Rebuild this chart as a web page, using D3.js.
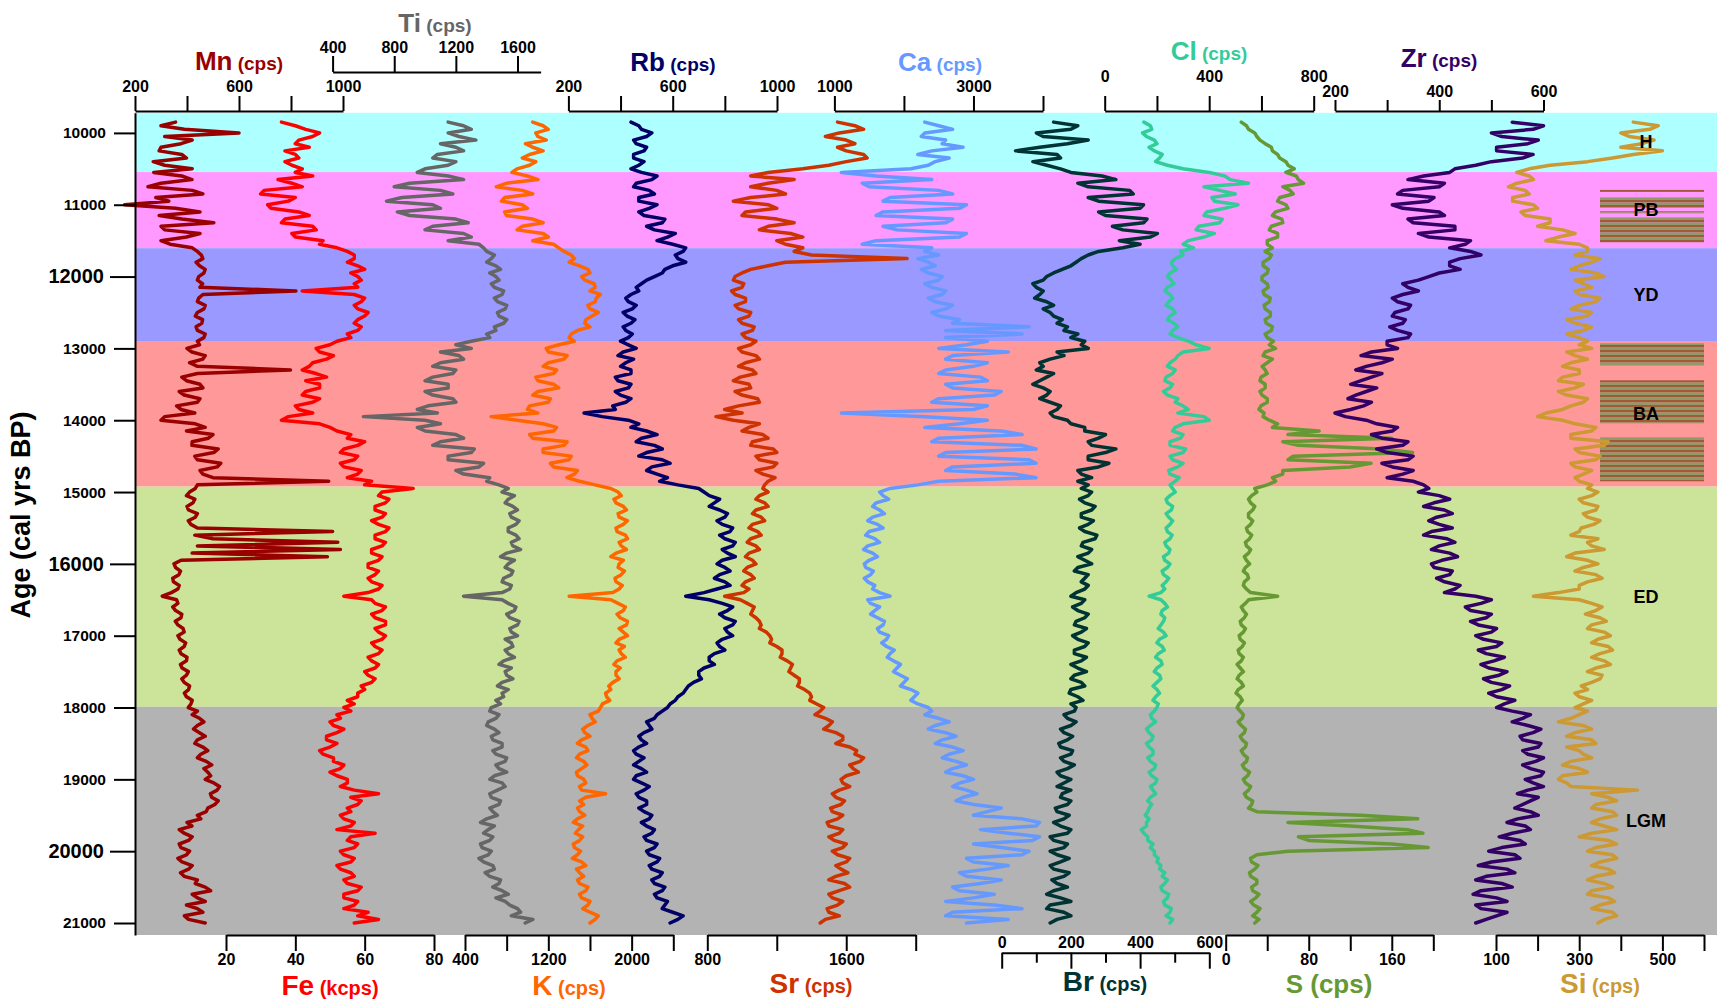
<!DOCTYPE html>
<html><head><meta charset="utf-8">
<script src="https://cdn.jsdelivr.net/npm/d3@7/dist/d3.min.js"></script>
<style>
html,body{margin:0;padding:0;background:#fff;}
svg{display:block;}
</style></head>
<body>
<svg id="chart" width="1717" height="1005"></svg>
<script>
// ---------------- DATA ----------------
// sample ages (cal yrs BP)
const ages = [
 9850,9900,9950,10000,10050,10100,10150,10200,10250,10300,10350,10400,10450,10500,
 10550,10600,10650,10700,10750,10800,10850,10900,10950,11000,11050,11100,11150,11200,11250,11300,11350,11400,11450,11500,11550,11600,
 11650,11700,11750,11800,11850,11900,11950,12000,12050,12100,12150,12200,12250,12300,12350,12400,12450,12500,12550,12600,12650,12700,12750,12800,12850,12900,
 12950,13000,13050,13100,13150,13200,13250,13300,13350,13400,13450,13500,13550,13600,13650,13700,13750,13800,13850,13900,
 13950,14000,14050,14100,14150,14200,14250,14300,14350,14400,14450,14500,14550,14600,14650,14700,14750,14800,14850,14900,
 14950,15000,15050,15100,15150,15200,15250,15300,15350,15400,15450,15500,15550,15600,15650,15700,15750,15800,15850,15900,15950,16000,
 16050,16100,16150,16200,16250,16300,16350,16400,16450,16500,16550,16600,16650,16700,16750,16800,16850,16900,16950,17000,
 17050,17100,17150,17200,17250,17300,17350,17400,17450,17500,17550,17600,17650,17700,17750,17800,17850,17900,17950,18000,
 18050,18100,18150,18200,18250,18300,18350,18400,18450,18500,18550,18600,18650,18700,18750,18800,18850,18900,18950,19000,
 19050,19100,19150,19200,19250,19300,19350,19400,19450,19500,19550,19600,19650,19700,19750,19800,19850,19900,19950,20000,
 20050,20100,20150,20200,20250,20300,20350,20400,20450,20500,20550,20600,20650,20700,20750,20800,20850,20900,20950,21000];

const mn = [356,300,390,600,314,420,377,300,293,380,398,270,314,420,
 272,380,419,300,250,420,461,280,330,160,356,450,293,380,503,300,314,450,398,300,335,420,
 440,455,461,435,448,470,465,445,440,460,450,819,461,445,440,470,465,440,432,460,457,435,440,470,465,440,
 448,400,419,470,461,410,440,798,440,380,398,450,461,370,389,450,440,360,377,430,314,300,432,470,398,500,482,420,419,520,503,430,440,530,516,450,461,500,945,440,
 432,410,398,430,423,400,406,440,432,405,415,440,960,430,500,980,440,990,420,940,377,350,356,375,369,345,348,370,365,340,305,360,365,345,356,380,377,355,365,385,389,365,373,395,389,370,377,400,398,375,381,405,398,380,389,410,406,390,398,420,415,405,
 440,420,448,465,440,425,448,470,440,430,461,480,453,440,474,495,465,480,491,470,503,525,516,490,495,520,507,480,474,440,453,400,419,370,389,420,406,370,377,410,398,365,381,420,406,375,389,440,432,470,491,420,440,470,398,440,461,390,406,470];

const fe = [36,40,43,47,45,41,40,44,37,40,41,37,39,42,
 40,45,35,39,42,31,30,40,38,32,33,41,44,37,36,45,46,39,40,48,47,52,
 55,57,57,55,58,60,56,58,59,57,58,42,57,60,59,57,58,61,60,58,57,59,58,55,56,52,
 50,46,47,51,49,45,44,42,46,49,43,47,47,43,42,47,45,40,41,45,38,36,47,50,52,56,55,60,58,54,53,58,57,53,54,59,58,55,62,60,
 74,65,64,67,66,63,63,66,65,62,64,67,66,63,63,66,65,62,62,65,64,61,61,64,63,61,62,65,64,61,54,62,63,66,65,62,63,66,66,63,64,66,65,62,63,65,64,61,62,64,63,60,61,63,62,59,60,58,58,55,57,54,
 56,52,53,50,51,54,52,49,49,52,50,47,48,51,51,54,53,50,52,55,55,53,57,64,56,59,58,55,56,53,54,57,56,52,63,56,55,58,57,53,54,57,56,52,53,56,57,54,55,59,58,54,54,58,57,54,61,58,64,57];

const ti = [1150,1250,1300,1150,1220,1330,1100,1200,1250,1080,1050,1200,1150,1000,
 950,1150,1250,900,800,1100,1180,850,750,1050,1100,820,900,1200,1280,1050,1000,1250,1300,1150,1350,1380,
 1400,1450,1430,1400,1460,1490,1420,1460,1480,1430,1450,1510,1500,1450,1470,1530,1520,1470,1480,1530,1510,1450,1460,1400,1420,1300,
 1200,1300,1100,1220,1250,1100,1050,1200,1180,1050,1000,1150,1150,1000,1050,1180,1200,1020,950,1080,600,1000,1100,950,1000,1200,1250,1100,1050,1320,1300,1150,1150,1380,1350,1200,1250,1420,1400,1480,
 1540,1500,1580,1540,1520,1570,1600,1550,1560,1610,1590,1540,1540,1590,1610,1560,1570,1620,1530,1490,1580,1540,1520,1570,1560,1510,1500,1560,1550,1500,1250,1500,1540,1590,1580,1530,1550,1610,1600,1550,1560,1600,1520,1560,1570,1520,1540,1580,1510,1480,1560,1520,1530,1570,1500,1470,1540,1500,1510,1460,1490,1430,
 1420,1480,1460,1410,1400,1450,1480,1430,1440,1500,1500,1440,1460,1530,1520,1460,1480,1530,1450,1420,1500,1520,1470,1420,1430,1490,1480,1420,1440,1470,1400,1360,1450,1410,1380,1440,1420,1360,1370,1430,1410,1350,1380,1440,1450,1390,1420,1490,1480,1440,1500,1540,1460,1520,1550,1600,1620,1560,1700,1650];

const k = [1050,1150,1200,1080,1100,1180,980,1050,1150,1020,950,1080,1020,900,
 850,1000,1100,800,700,950,1050,780,750,950,1000,780,800,1050,1150,950,900,1150,1200,1050,1250,1300,
 1350,1420,1450,1400,1500,1580,1600,1520,1550,1640,1650,1600,1700,1660,1650,1580,1600,1680,1620,1560,1550,1600,1480,1420,1400,1450,
 1300,1180,1200,1380,1350,1200,1150,1280,1250,1080,1100,1250,1300,1100,1050,1220,1200,1020,1000,1100,650,900,1150,1280,1250,1020,1050,1380,1350,1150,1150,1420,1400,1220,1250,1480,1450,1380,1500,1650,
 1800,1870,1900,1830,1850,1920,1950,1870,1880,1960,1920,1850,1860,1940,1960,1880,1900,1950,1850,1800,1920,1880,1870,1930,1900,1840,1850,1910,1880,1820,1400,1800,1870,1940,1920,1860,1890,1960,1950,1880,1920,1960,1880,1850,1930,1880,1900,1940,1860,1830,1890,1850,1850,1880,1820,1780,1800,1750,1760,1790,1720,1700,
 1680,1600,1620,1650,1580,1530,1550,1600,1520,1480,1560,1580,1500,1470,1540,1570,1520,1470,1480,1540,1560,1500,1520,1750,1560,1500,1540,1480,1500,1550,1480,1440,1530,1490,1460,1530,1500,1440,1450,1510,1480,1430,1520,1560,1470,1500,1540,1480,1500,1580,1560,1500,1520,1600,1580,1530,1600,1680,1650,1600];

const rb = [440,470,480,520,500,450,460,500,490,450,450,490,470,440,
 480,540,520,460,450,510,530,470,470,540,510,470,490,570,560,500,530,610,580,540,600,650,
 640,610,620,650,600,570,560,530,500,480,460,470,440,420,430,460,445,410,425,455,440,410,420,445,430,400,
 430,460,410,390,450,420,400,440,440,380,390,440,430,380,400,440,420,370,380,260,330,430,470,440,500,540,480,460,530,560,500,470,560,590,520,500,540,580,550,620,
 700,720,740,780,760,740,780,810,800,770,790,830,820,780,800,840,830,790,810,840,790,770,800,820,780,760,800,820,770,720,650,740,790,830,810,780,800,840,830,800,810,830,790,770,780,800,760,740,740,760,720,700,700,710,680,660,650,640,620,610,590,580,
 560,540,530,500,510,520,490,470,480,500,470,450,460,490,470,450,480,500,460,450,480,510,490,460,470,500,500,470,490,520,510,480,500,530,520,490,500,540,530,500,510,550,540,510,520,560,550,520,530,570,560,530,540,580,570,560,600,640,620,590];

const sr = [1550,1650,1700,1560,1480,1600,1650,1550,1600,1700,1720,1600,1500,1350,
 1150,1050,1300,1150,1050,1200,1250,1050,950,1150,1200,1020,1000,1200,1300,1150,1100,1280,1350,1200,1250,1350,
 1300,1400,1950,1250,1150,1050,1000,960,950,1010,1000,940,960,1020,1020,960,980,1050,1040,980,1000,1070,1060,1000,1020,1080,
 1050,980,1000,1080,1100,1020,980,1060,1080,990,950,1040,1050,960,1000,1090,1100,980,900,1000,850,950,1100,1040,1000,1120,1150,1060,1050,1180,1200,1080,1100,1200,1180,1080,1120,1190,1150,1130,
 1120,1150,1100,1080,1130,1150,1080,1060,1110,1130,1060,1040,1090,1110,1050,1030,1080,1100,1040,1020,1060,1080,1030,1010,1050,1070,1020,1000,1040,1010,900,990,1030,1070,1060,1050,1080,1100,1110,1100,1140,1160,1170,1160,1200,1230,1230,1220,1260,1290,1280,1270,1300,1330,1330,1320,1360,1390,1400,1390,1430,1470,
 1450,1420,1480,1520,1500,1470,1540,1580,1580,1540,1620,1660,1650,1700,1680,1620,1640,1670,1600,1570,1580,1620,1560,1520,1540,1590,1570,1510,1520,1580,1550,1490,1500,1580,1560,1500,1530,1600,1580,1520,1550,1620,1600,1540,1570,1610,1540,1500,1590,1620,1560,1500,1520,1580,1550,1490,1500,1560,1480,1450];

const ca = [2300,2500,2700,2300,2250,2600,2550,2850,2400,2200,2650,2450,2350,2100,
 1100,1600,2400,1400,1500,2500,2700,1800,1700,2900,2800,1700,1600,2700,2600,1700,1900,2900,2800,1600,1400,2400,
 2300,2500,2200,2350,2450,2250,2350,2550,2500,2300,2400,2600,2550,2350,2450,2700,2600,2400,2500,2800,2700,3800,2600,3700,2600,3200,
 2900,2500,3500,2700,2600,3200,3000,2600,2500,3100,3200,2600,2700,3400,3300,2500,2400,3200,3000,1100,2300,3200,2800,2300,3400,3700,2500,2400,3700,3900,2600,2500,3800,3900,2700,2600,3600,3900,2500,2200,
 1800,1650,1700,1780,1600,1550,1650,1720,1550,1480,1620,1700,1500,1450,1580,1650,1480,1420,1550,1620,1500,1430,1450,1560,1520,1430,1480,1580,1550,1650,1800,1480,1520,1650,1580,1520,1620,1720,1700,1620,1650,1780,1750,1680,1750,1860,1800,1760,1850,1950,1900,1850,1950,2050,2000,1950,2100,2200,2150,2100,2200,2350,
 2400,2300,2500,2650,2450,2350,2600,2750,2550,2450,2700,2850,2650,2550,2750,2900,2700,2600,2850,3000,2800,2700,2900,3050,2850,2750,3000,3400,3200,3000,3700,3950,3900,3100,3500,3950,3850,3000,3400,3800,3700,2900,3000,3500,3200,2800,2900,3400,3100,2700,2800,3300,3000,2600,3300,3700,2700,2600,3500,2900];

const br = [150,220,200,100,120,250,190,110,40,160,170,90,130,170,
 200,290,330,220,250,370,380,250,280,410,400,280,300,420,410,320,350,450,430,340,400,350,
 280,250,230,215,200,175,150,130,120,90,100,120,110,95,130,150,120,140,150,175,160,190,180,220,200,240,
 230,250,160,180,140,110,120,100,150,130,110,90,120,140,130,110,140,170,160,140,150,190,200,240,240,300,280,250,260,330,300,250,250,310,280,220,230,260,220,250,
 230,260,250,225,240,270,260,230,230,265,250,225,240,275,270,235,230,260,250,220,240,260,220,210,250,240,230,250,240,215,200,240,230,205,220,250,240,215,210,245,230,205,220,250,240,210,210,245,230,200,220,245,210,200,230,240,200,195,220,235,200,215,
 210,180,190,215,200,170,180,205,190,165,170,205,200,170,180,210,190,160,170,200,180,160,200,175,170,200,190,155,160,195,180,150,170,200,190,140,150,190,180,140,160,195,170,140,150,195,180,145,160,190,150,130,170,200,140,130,180,200,160,140];

const cl = [150,175,180,145,160,190,200,170,190,220,210,195,240,300,
 400,460,480,550,380,440,500,410,420,510,460,390,380,450,440,360,350,420,380,320,300,340,
 290,300,270,255,260,275,250,240,255,265,240,230,250,260,245,235,260,270,250,240,265,280,260,250,280,320,
 350,400,300,280,270,250,240,270,260,235,230,260,250,225,240,280,270,300,320,280,380,400,300,270,260,300,290,250,250,310,300,250,260,300,280,245,250,285,270,250,
 260,270,250,235,240,260,255,235,245,260,250,235,240,258,250,230,235,250,245,225,230,250,240,220,225,245,235,220,230,215,170,215,230,240,220,215,230,225,215,205,225,235,210,200,220,228,205,195,215,220,200,190,210,215,200,185,200,210,195,185,205,200,
 190,175,180,195,175,160,170,185,180,160,170,185,185,165,175,195,190,170,180,200,195,175,185,195,175,165,180,170,165,155,170,160,160,140,150,165,165,185,175,190,190,205,200,215,210,230,220,240,230,215,220,245,240,225,230,255,250,235,260,250];

const s = [15,20,22,28,30,33,38,44,45,50,52,58,60,66,
 58,68,70,75,55,62,65,52,50,58,60,48,45,54,55,44,42,50,50,40,40,45,
 38,44,42,36,36,41,40,35,35,40,41,36,37,43,42,37,38,43,43,38,39,45,44,38,40,46,
 42,48,38,36,45,40,35,38,40,34,33,38,38,33,35,40,40,34,32,37,36,42,50,45,90,60,160,55,70,150,180,65,60,140,120,55,55,45,48,40,
 28,30,25,22,24,28,26,22,22,26,24,20,21,25,23,19,20,24,22,18,20,23,19,17,21,22,18,17,20,24,50,22,19,15,17,20,18,14,15,19,17,13,14,18,16,12,13,17,15,11,14,17,13,11,15,17,12,10,14,16,13,11,
 14,17,16,12,15,19,18,14,16,20,19,15,17,21,20,16,18,23,21,17,19,24,22,18,20,26,25,22,30,130,185,60,120,175,190,70,80,160,195,60,30,24,25,31,28,23,24,30,30,25,26,32,29,24,27,33,30,26,32,28];

const zr = [540,600,580,500,520,590,570,510,510,580,560,500,470,430,
 420,370,340,410,400,330,320,390,380,310,330,400,410,340,350,430,430,360,380,460,450,420,
 460,480,440,420,420,440,400,380,360,330,340,360,330,310,320,345,340,315,310,335,330,305,320,345,340,300,
 300,320,270,250,310,290,260,240,290,270,250,230,280,260,240,225,270,255,230,200,220,260,280,320,310,270,290,340,330,280,300,350,340,290,310,350,330,300,350,370,
 380,360,400,420,390,370,410,425,395,380,400,425,385,370,415,430,400,385,420,435,405,385,390,425,420,395,410,440,430,410,470,500,480,450,460,500,490,460,475,510,500,470,485,520,510,475,490,525,505,480,495,530,515,485,500,535,520,495,510,545,525,510,
 540,575,560,540,570,595,580,555,560,595,590,560,570,600,585,560,575,600,595,565,580,600,570,550,590,575,560,545,575,590,550,530,565,575,540,515,555,565,520,495,545,555,500,475,530,545,490,470,520,540,480,465,510,530,470,480,530,510,490,470];

const si = [430,490,470,400,420,480,450,400,500,430,380,320,230,180,
 150,180,190,150,130,170,180,140,140,190,200,160,170,230,230,200,260,290,250,220,300,320,
 320,290,350,330,300,280,340,360,290,310,330,290,300,350,340,300,280,330,320,270,290,330,310,270,300,320,
 300,330,270,290,320,280,260,300,300,260,250,310,290,250,270,320,310,280,260,220,200,260,290,340,330,280,280,370,360,290,300,350,340,280,290,330,310,290,300,330,
 320,345,330,300,310,345,340,310,320,350,335,305,300,280,345,320,330,360,290,270,320,345,310,290,340,355,320,300,300,250,190,300,330,355,340,315,350,365,330,320,360,375,345,330,370,380,350,330,360,375,340,320,355,350,330,305,320,290,300,330,310,290,
 320,300,280,250,310,330,290,270,330,340,270,300,310,330,280,260,300,320,260,250,270,280,440,330,370,390,340,330,380,390,350,330,360,390,330,300,370,390,340,320,380,390,350,330,370,385,340,320,360,380,330,320,370,385,350,330,380,390,360,345];

// periods (cal yrs BP)
const periodNames = ["H","PB","YD","BA","ED","LGM"];
const periodStart = [9720,10545,11605,12897,14925,17990];
const periodEnd   = [10545,11605,12897,14925,17990,21167];

// laminated intervals (hatched blocks)
const stripeStart = [10793,10898,11092,11176,12929,13444,14238];
const stripeEnd   = [10821,11044,11120,11524,13235,14043,14850];

// tick values
const yTicks = [10000,11000,12000,13000,14000,15000,16000,17000,18000,19000,20000,21000];
const yTicksMajor = [12000,16000,20000];
const mnTicks=[200,400,600,800,1000], mnLabels=[200,600,1000];
const tiTicks=[400,800,1200,1600], tiLabels=[400,800,1200,1600];
const rbTicks=[200,400,600,800,1000], rbLabels=[200,600,1000];
const caTicks=[1000,2000,3000,4000], caLabels=[1000,3000];
const clTicks=[0,200,400,600,800], clLabels=[0,400,800];
const zrTicks=[200,300,400,500,600], zrLabels=[200,400,600];
const feTicks=[20,40,60,80], feLabels=[20,40,60,80];
const kTicks=[400,800,1200,1600,2000,2400], kLabels=[400,1200,2000];
const srTicks=[800,1200,1600,2000], srLabels=[800,1600];
const brTicks=[0,100,200,300,400,500,600], brLabels=[0,200,400,600];
const sTicks=[0,40,80,120,160,200], sLabels=[0,80,160];
const siTicks=[100,200,300,400,500,600], siLabels=[100,300,500];

// ---------------- STYLE / LAYOUT ----------------
const FONT = "'Liberation Sans', Arial, Helvetica, sans-serif";
const periodColors = {H:"#AEFFFF", PB:"#FF99FF", YD:"#9999FF", BA:"#FF9999", ED:"#CCE49A", LGM:"#B3B3B3"};
const svg = d3.select("#chart");
const plotLeft = 135, plotRight = 1717;
const y = d3.scaleLinear().domain([periodStart[0], periodEnd[periodEnd.length-1]]).range([112.8, 935]);

const series = [
 {name:"Mn", unit:"(cps)", values:mn, domain:[200,1000], range:[135,343], color:"#990000", pos:"top", ay:111, ts:15, pad:4, ticks:mnTicks, labels:mnLabels, tx:239, ty:70},
 {name:"Fe", unit:"(kcps)", values:fe, domain:[20,80], range:[226,434], color:"#FF0000", pos:"bottom", ay:935, ts:16, pad:3, ticks:feTicks, labels:feLabels, tx:330, ty:995},
 {name:"Ti", unit:"(cps)", values:ti, domain:[400,1750], range:[332.6,540.6], color:"#666666", pos:"top", ay:72, ts:16, pad:3, ticks:tiTicks, labels:tiLabels, tx:435, ty:32},
 {name:"K", unit:"(cps)", values:k, domain:[400,2400], range:[465,673.3], color:"#FF6600", pos:"bottom", ay:935, ts:16, pad:3, ticks:kTicks, labels:kLabels, tx:569, ty:995},
 {name:"Rb", unit:"(cps)", values:rb, domain:[200,1000], range:[568.4,777], color:"#000066", pos:"top", ay:111, ts:15, pad:4, ticks:rbTicks, labels:rbLabels, tx:673, ty:71},
 {name:"Sr", unit:"(cps)", values:sr, domain:[800,2000], range:[707.3,915.7], color:"#CC3300", pos:"bottom", ay:935, ts:16, pad:3, ticks:srTicks, labels:srLabels, tx:811, ty:993},
 {name:"Ca", unit:"(cps)", values:ca, domain:[1000,4000], range:[834.4,1043], color:"#6699FF", pos:"top", ay:111, ts:15, pad:4, ticks:caTicks, labels:caLabels, tx:940, ty:71},
 {name:"Br", unit:"(cps)", values:br, domain:[0,600], range:[1001.7,1209.3], color:"#003333", pos:"br", ay:952.7, ts:16, pad:5, ticks:brTicks, labels:brLabels, tx:1105, ty:991},
 {name:"Cl", unit:"(cps)", values:cl, domain:[0,800], range:[1104.7,1313.7], color:"#33CC99", pos:"top", ay:111, ts:15, pad:14, ticks:clTicks, labels:clLabels, tx:1209, ty:60},
 {name:"S", unit:"(cps)", values:s, domain:[0,200], range:[1225.7,1433.3], color:"#669933", pos:"bottom", ay:935, ts:16, pad:3, ticks:sTicks, labels:sLabels, tx:1329, ty:993, same:true},
 {name:"Zr", unit:"(cps)", values:zr, domain:[200,600], range:[1335,1543.5], color:"#330066", pos:"top", ay:111, ts:11, pad:3, ticks:zrTicks, labels:zrLabels, tx:1439, ty:67},
 {name:"Si", unit:"(cps)", values:si, domain:[100,600], range:[1496,1704], color:"#CC9933", pos:"bottom", ay:935, ts:16, pad:3, ticks:siTicks, labels:siLabels, tx:1600, ty:993}
];

// pattern for laminations
const defs = svg.append("defs");
const pat = defs.append("pattern").attr("id","hatch").attr("patternUnits","userSpaceOnUse")
  .attr("width",8).attr("height",5);
pat.append("rect").attr("width",8).attr("height",2.5).attr("fill","#A15A36");
pat.append("rect").attr("y",2.5).attr("width",8).attr("height",2.5).attr("fill","#8E9A6A");

// period bands
const periods = periodNames.map((n,i)=>({name:n, start:periodStart[i], end:periodEnd[i]}));
svg.append("g").selectAll("rect").data(periods).join("rect")
  .attr("x", plotLeft).attr("width", plotRight-plotLeft)
  .attr("y", d=>y(d.start)).attr("height", d=>y(d.end)-y(d.start))
  .attr("fill", d=>periodColors[d.name]);

// hatched blocks
const stripes = stripeStart.map((a,i)=>({start:a, end:stripeEnd[i]}));
svg.append("g").selectAll("rect").data(stripes).join("rect")
  .attr("x",1600).attr("width",104)
  .attr("y", d=>y(d.start)).attr("height", d=>y(d.end)-y(d.start))
  .attr("fill","url(#hatch)");

// traces
series.forEach(sr=>{
  const xs = d3.scaleLinear().domain(sr.domain).range(sr.range);
  sr.scale = xs;
  const n = Math.min(ages.length, sr.values.length);
  const pts = d3.range(n).map(i=>({age:ages[i], v:sr.values[i]}));
  const line = d3.line().x(d=>xs(d.v)).y(d=>y(d.age));
  svg.append("path").datum(pts)
    .attr("d", line).attr("fill","none").attr("stroke", sr.color)
    .attr("stroke-width",3.5).attr("stroke-linejoin","round").attr("stroke-linecap","round");
});

// period labels (on top of traces)
svg.append("g").selectAll("text").data(periods).join("text")
  .attr("x",1646).attr("y", d=>y((d.start+d.end)/2))
  .attr("text-anchor","middle").attr("dominant-baseline","central")
  .attr("font-family",FONT).attr("font-weight","bold").attr("font-size",18)
  .attr("fill","#000").text(d=>d.name);

function styleAxis(g){
  g.attr("font-family",FONT).attr("font-size",16).attr("font-weight","bold");
  g.selectAll(".domain").attr("stroke","#000").attr("stroke-width",2);
  g.selectAll(".tick line").attr("stroke","#000").attr("stroke-width",2);
  g.selectAll(".tick text").attr("fill","#000");
}

// x axes
series.forEach(sr=>{
  const fmt = d => sr.labels.includes(d) ? String(d) : "";
  if (sr.pos === "top" || sr.pos === "bottom") {
    const ax = (sr.pos==="top" ? d3.axisTop(sr.scale) : d3.axisBottom(sr.scale))
      .tickValues(sr.ticks).tickSize(sr.ts).tickSizeOuter(0).tickPadding(sr.pad).tickFormat(fmt);
    const g = svg.append("g").attr("transform",`translate(0,${sr.ay})`).call(ax);
    styleAxis(g);
  } else {
    const ax = d3.axisBottom(sr.scale).tickValues(sr.ticks).tickSize(sr.ts).tickSizeOuter(0).tickFormat("");
    const g = svg.append("g").attr("transform",`translate(0,${sr.ay})`).call(ax);
    styleAxis(g);
    g.selectAll(".tick line").filter(d=>!sr.labels.includes(d)).attr("y2",10);
    const axl = d3.axisTop(sr.scale).tickValues(sr.labels).tickSize(0).tickPadding(sr.pad).tickFormat(d=>String(d));
    const gl = svg.append("g").attr("transform",`translate(0,${sr.ay})`).call(axl);
    styleAxis(gl);
    gl.select(".domain").remove();
  }
  const big = sr.pos==="top" ? 26 : (sr.same ? 26 : 28);
  const small = sr.pos==="top" ? 19 : (sr.same ? 26 : 20);
  const t = svg.append("text").attr("x",sr.tx).attr("y",sr.ty).attr("text-anchor","middle")
    .attr("font-family",FONT).attr("font-weight","bold").attr("fill",sr.color);
  t.append("tspan").attr("font-size",big).text(sr.name);
  t.append("tspan").attr("font-size",small).text(" " + sr.unit);
});

// y axis
const yAx = d3.axisLeft(y).tickValues(yTicks).tickSize(22).tickSizeOuter(0).tickPadding(7).tickFormat(d=>String(d));
const gy = svg.append("g").attr("transform",`translate(${plotLeft},0)`).call(yAx);
styleAxis(gy);
gy.selectAll(".tick text").attr("font-size", d=> yTicksMajor.includes(d) ? 20 : 15.5);
gy.selectAll(".tick line").attr("x2", d=> yTicksMajor.includes(d) ? -25 : -21);
gy.selectAll(".tick text").attr("x", d=> yTicksMajor.includes(d) ? -31 : -29);

svg.append("text").attr("transform","translate(30,515) rotate(-90)")
  .attr("text-anchor","middle").attr("font-family",FONT).attr("font-weight","bold")
  .attr("font-size",27).attr("fill","#000").text("Age (cal yrs BP)");
</script>
</body></html>
